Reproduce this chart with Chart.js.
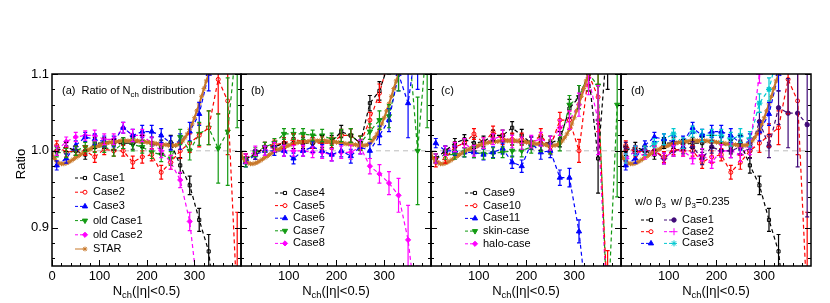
<!DOCTYPE html>
<html>
<head>
<meta charset="utf-8">
<title>Ratio of Nch distribution</title>
<script src="https://cdn.jsdelivr.net/npm/chart.js@4.4.1/dist/chart.umd.min.js"></script>
<style>
  body { margin: 0; background: #fff; }
  #wrap { position: relative; width: 830px; height: 303px; }
  #wrap canvas { position: absolute; left: 0; top: 0; }
</style>
</head>
<body>
<div id="wrap">
  <canvas id="panelA" width="830" height="303"></canvas>
  <canvas id="panelB" width="830" height="303"></canvas>
  <canvas id="panelC" width="830" height="303"></canvas>
  <canvas id="panelD" width="830" height="303"></canvas>
</div>
<script>
// N_ch bin centres of the model curves
const nch = [10, 30, 50, 70, 90, 110, 130, 150, 170, 190, 210, 230, 250, 270, 290, 310, 330, 350, 370, 390];
// typical statistical error of the model ratios
const errBar = [0.006, 0.006, 0.006, 0.006, 0.007, 0.007, 0.007, 0.007, 0.008, 0.008, 0.008, 0.009, 0.009, 0.010, 0.012, 0.015, 0.022, 0.045, 0.07, 0.12];
const xTickValues = [0, 100, 200, 300];
const yTickValues = [0.9, 1.0, 1.1];

// STAR reference curve
const starNch = [0, 5, 10, 15, 20, 25, 30, 35, 40, 45, 50, 55, 60, 65, 70, 75, 80, 85, 90, 95,
  100, 105, 110, 115, 120, 125, 130, 135, 140, 145, 150, 155, 160, 165, 170, 175, 180, 185, 190, 195,
  200, 205, 210, 215, 220, 225, 230, 235, 240, 245, 250, 255, 260, 265, 270, 275, 280, 285, 290, 295,
  300, 305, 310, 315, 320, 325, 330, 335];
const starRatio = [0.996, 0.990, 0.986, 0.984, 0.983, 0.983, 0.984, 0.985, 0.987, 0.989,
  0.991, 0.993, 0.995, 0.997, 0.999, 1.001, 1.002, 1.004, 1.005, 1.006,
  1.007, 1.008, 1.009, 1.010, 1.011, 1.011, 1.012, 1.012, 1.012, 1.013,
  1.013, 1.013, 1.013, 1.013, 1.013, 1.013, 1.013, 1.012, 1.012, 1.012,
  1.011, 1.011, 1.010, 1.010, 1.009, 1.009, 1.008, 1.008, 1.008, 1.007,
  1.007, 1.007, 1.007, 1.008, 1.010, 1.013, 1.017, 1.022, 1.028, 1.035,
  1.043, 1.052, 1.061, 1.071, 1.081, 1.091, 1.100, 1.110];

// (a)
const case1 = [1.000, 1.005, 1.000, 0.995, 1.010, 1.010, 1.008, 1.010, 1.010, 1.012, 1.010, 1.005, 1.011, 0.981, 0.955, 0.910, 0.869, 0.760, null, null];
const case2 = [1.007, 0.998, 1.000, 1.000, 0.992, 1.002, 1.000, 1.000, 0.985, 0.992, 0.995, 0.972, 0.985, 1.000, 1.010, 1.020, 1.030, 1.093, 1.065, 0.800];
const case3 = [0.981, 0.990, 1.007, 1.018, 1.015, 1.012, 1.012, 1.030, 1.020, 1.025, 1.025, 1.020, 1.010, 1.012, 1.025, 1.048, 1.100, 1.160, null, null];
const oldCase1 = [0.998, 0.997, 1.000, 1.005, 1.005, 1.005, 1.000, 1.010, 1.008, 1.005, 0.998, 0.995, 0.990, 1.018, 1.000, 1.022, 1.030, 1.003, 1.025, 1.150];
const oldCase2 = [1.000, 1.012, 1.018, 1.020, 1.020, 1.015, 1.015, 1.030, 1.020, 1.020, 1.010, 1.000, 0.985, 0.962, 0.908, 0.800, null, null, null, null];
// (b)
const case4 = [0.990, 0.995, 1.005, 1.005, 1.010, 1.010, 1.010, 1.010, 1.012, 1.012, 1.025, 1.020, 1.010, 1.062, 1.078, 1.115, null, null, null, null];
const case5 = [0.990, 0.995, 1.005, 1.008, 1.010, 1.015, 1.012, 1.010, 1.010, 1.010, 1.020, 1.020, 1.010, 1.040, 1.075, 1.120, null, null, null, null];
const case6 = [0.985, 0.995, 1.000, 1.000, 1.000, 0.990, 1.000, 1.005, 1.000, 0.995, 1.000, 0.993, 1.005, 1.000, 1.020, 1.040, 1.100, 1.062, 1.150, null];
const case7 = [0.985, 0.998, 1.005, 1.010, 1.022, 1.022, 1.022, 1.020, 1.020, 1.015, 1.020, 1.020, 1.010, 1.025, 1.040, 1.045, 1.100, 1.150, 1.000, 1.150];
const case8 = [0.990, 1.000, 1.000, 1.005, 1.000, 1.000, 1.000, 0.998, 0.998, 0.995, 0.998, 0.998, 1.005, 0.980, 0.970, 0.958, 0.942, 0.884, 0.780, null];
// (c)
const case9 = [0.990, 1.000, 1.010, 1.015, 1.010, 1.012, 1.020, 1.020, 1.030, 1.020, 1.010, 1.010, 1.010, 1.015, 1.055, 1.070, 1.100, 0.990, 1.150, null];
const case10 = [0.985, 0.990, 1.005, 1.010, 1.022, 1.010, 1.025, 1.015, 1.015, 1.015, 1.010, 1.020, 1.005, 1.040, 1.040, 1.000, 1.100, 1.070, 0.800, null];
const case11 = [1.010, 1.000, 1.000, 0.998, 0.998, 0.995, 0.998, 1.003, 0.985, 0.980, 1.010, 0.998, 1.000, 0.965, 0.965, 0.895, 0.780, null, null, null];
const skinCase = [0.990, 0.995, 0.995, 0.998, 0.998, 0.996, 0.997, 0.998, 1.000, 1.000, 1.005, 1.008, 1.005, 1.010, 1.060, 1.070, 1.100, 1.085, 0.780, 1.060];
const haloCase = [0.990, 1.000, 1.005, 1.010, 1.000, 1.010, 1.015, 1.020, 1.012, 1.010, 1.012, 1.015, 1.010, 1.030, 1.040, 1.060, 1.095, 1.040, 0.780, null];
// (d) with beta3 = 0.235
const b3Case1 = [1.005, 1.000, 1.000, 1.000, 0.990, 1.000, 1.003, 1.005, 0.990, 1.005, 1.000, 1.000, 1.005, 1.000, 1.038, 1.006, 1.056, 1.049, 1.049, 1.034];
const b3Case2 = [0.990, 1.000, 0.995, 1.000, 0.990, 1.000, 1.000, 0.990, 0.995, 0.985, 1.000, 1.000, 0.995, 1.005, 1.100, 1.160, null, null, null, null];
const b3Case3 = [0.990, 1.000, 1.000, 1.010, 1.015, 1.022, 1.010, 1.025, 1.020, 1.020, 1.020, 1.015, 1.020, 1.015, 1.062, 1.080, 1.130, null, null, null];

const FONT = '"Liberation Sans", Arial, Helvetica, sans-serif';
Chart.defaults.font.family = FONT;
Chart.defaults.color = '#000';

const RED = '#ff0000', BLUE = '#0000ff', GREEN = '#129a12', MAG = '#ff00ff', ORANGE = '#c8782a', CYAN = '#00c8d0', INDIGO = '#400a78';

function model(label, values, color, style) {
  const pts = [];
  values.forEach((v, i) => { if (v !== null) pts.push({ x: nch[i], y: v, e: errBar[i] }); });
  return Object.assign({
    label: label,
    data: pts,
    borderColor: color,
    backgroundColor: color,
    pointBackgroundColor: color,
    pointBorderColor: color,
    borderWidth: 1.2,
    borderDash: [4, 3],
    pointStyle: 'circle',
    pointRadius: 2.2,
    pointBorderWidth: 1,
    clip: 0,
    errorBars: true
  }, style || {});
}
const openSquare = { pointStyle: 'rect', pointRadius: 2.2, pointBackgroundColor: '#fff' };
const openCircle = { pointStyle: 'circle', pointRadius: 2, pointBackgroundColor: '#fff' };
const upTri = { pointStyle: 'triangle', pointRadius: 3 };
const downTri = { pointStyle: 'triangle', pointRadius: 3, pointRotation: 180 };
const diamond = { pointStyle: 'rectRot', pointRadius: 2.6 };

function starData() {
  return {
    label: 'STAR',
    data: starNch.map((x, i) => ({ x: x, y: starRatio[i] })),
    borderColor: ORANGE, backgroundColor: ORANGE,
    pointBackgroundColor: ORANGE, pointBorderColor: ORANGE,
    borderWidth: 2, pointStyle: 'star', pointRadius: 2.4, pointBorderWidth: 1,
    clip: 0, order: -1
  };
}

// per panel decorations: texts, legends, panel label
const deco = {
  panelA: {
    tag: [['(a)  Ratio of N'], ['ch', 1], [' distribution']], tagX: 62,
    legends: [{ x: 75, y: 178, step: 14.2, text: true, sets: [0, 1, 2, 3, 4, 5] }],
    yTitle: true, showZero: true
  },
  panelB: {
    tag: [['(b)']], tagX: 251,
    legends: [{ x: 275, y: 193, step: 12.6, text: true, sets: [0, 1, 2, 3, 4] }]
  },
  panelC: {
    tag: [['(c)']], tagX: 441,
    legends: [{ x: 465, y: 193, step: 12.7, text: true, sets: [0, 1, 2, 3, 4] }]
  },
  panelD: {
    tag: [['(d)']], tagX: 631,
    header: [{ x: 635, parts: [['w/o β'], ['3', 1]] }, { x: 671, parts: [['w/ β'], ['3', 1], ['=0.235']] }], headerY: 202,
    legends: [
      { x: 641, y: 220, step: 11.7, text: false, sets: [0, 1, 2] },
      { x: 664, y: 220, step: 11.7, text: true, sets: [3, 4, 5] }
    ]
  }
};

function drawRich(ctx, parts, x, y, size, align) {
  let w = 0;
  parts.forEach(p => { ctx.font = (p[1] ? size * 0.72 : size) + 'px ' + FONT; w += ctx.measureText(p[0]).width; });
  let cx = align === 'center' ? x - w / 2 : x;
  ctx.textAlign = 'left';
  parts.forEach(p => {
    ctx.font = (p[1] ? size * 0.72 : size) + 'px ' + FONT;
    ctx.fillText(p[0], cx, p[1] ? y + size * 0.32 : y);
    cx += ctx.measureText(p[0]).width;
  });
}

const panelDeco = {
  id: 'panelDeco',
  beforeDatasetsDraw(chart) {
    const { ctx, chartArea: a, scales: { y } } = chart;
    const py = y.getPixelForValue(1.0);
    ctx.save();
    ctx.strokeStyle = '#bdbdbd';
    ctx.lineWidth = 1;
    ctx.setLineDash([5, 4]);
    ctx.beginPath(); ctx.moveTo(a.left, py); ctx.lineTo(a.right, py); ctx.stroke();
    ctx.restore();
  },
  afterDatasetsDraw(chart) {
    // vertical error bars
    const { ctx, chartArea: a, scales: { x, y } } = chart;
    ctx.save();
    ctx.beginPath(); ctx.rect(a.left, a.top, a.width, a.height); ctx.clip();
    chart.data.datasets.forEach(ds => {
      if (!ds.errorBars) return;
      ctx.strokeStyle = ds.borderColor;
      ctx.lineWidth = 1.2;
      ds.data.forEach(p => {
        const px = x.getPixelForValue(p.x);
        const lo = y.getPixelForValue(p.y - p.e), hi = y.getPixelForValue(p.y + p.e);
        ctx.beginPath();
        ctx.moveTo(px, lo); ctx.lineTo(px, hi);
        ctx.moveTo(px - 2, lo); ctx.lineTo(px + 2, lo);
        ctx.moveTo(px - 2, hi); ctx.lineTo(px + 2, hi);
        ctx.stroke();
      });
    });
    ctx.restore();
  },
  afterDraw(chart) {
    const d = deco[chart.canvas.id];
    const { ctx, chartArea: a, scales: { x, y } } = chart;
    ctx.save();
    // frame and inward ticks
    ctx.strokeStyle = '#000';
    ctx.lineWidth = 1.5;
    ctx.strokeRect(a.left, a.top, a.width, a.height);
    ctx.lineWidth = 1;
    ctx.beginPath();
    for (let v = 0; v <= x.max; v += 20) {
      const px = Math.round(x.getPixelForValue(v)) + 0.5;
      const len = v % 100 === 0 ? 6 : 3;
      ctx.moveTo(px, a.bottom); ctx.lineTo(px, a.bottom - len);
    }
    for (let k = 43; k <= 55; k++) {
      const v = k / 50;
      const py = Math.round(y.getPixelForValue(v)) + 0.5;
      const len = k % 5 === 0 ? 6 : 3;
      ctx.moveTo(a.left, py); ctx.lineTo(a.left + len, py);
      ctx.moveTo(a.right, py); ctx.lineTo(a.right - len, py);
    }
    ctx.stroke();

    ctx.fillStyle = '#000';
    ctx.textBaseline = 'middle';
    // x title
    drawRich(ctx, [['N'], ['ch', 1], ['(|η|<0.5)']], (a.left + a.right) / 2, 291, 13, 'center');
    // y title
    if (d.yTitle) {
      ctx.save();
      ctx.translate(21, 164);
      ctx.rotate(-Math.PI / 2);
      ctx.font = '13px ' + FONT;
      ctx.textAlign = 'center';
      ctx.fillText('Ratio', 0, 0);
      ctx.restore();
    }
    // panel label
    drawRich(ctx, d.tag, d.tagX, 91, 11);
    if (d.header) d.header.forEach(h => drawRich(ctx, h.parts, h.x, d.headerY, 11));
    // legends
    d.legends.forEach(lg => {
      lg.sets.forEach((idx, row) => {
        const ds = chart.data.datasets[idx];
        const ly = lg.y + row * lg.step;
        ctx.save();
        ctx.strokeStyle = ds.borderColor;
        ctx.lineWidth = 1;
        if (ds.borderDash) ctx.setLineDash([3, 2]);
        ctx.beginPath(); ctx.moveTo(lg.x, ly); ctx.lineTo(lg.x + 10, ly); ctx.stroke();
        ctx.setLineDash([]);
        ctx.fillStyle = ds.pointBackgroundColor;
        Chart.helpers.drawPoint(ctx, {
          pointStyle: ds.pointStyle, rotation: ds.pointRotation || 0,
          radius: ds.pointRadius, borderWidth: ds.pointBorderWidth
        }, lg.x + 10, ly);
        ctx.restore();
        if (lg.text) drawRich(ctx, [[ds.label]], lg.x + 18, ly, 11);
      });
    });
    ctx.restore();
  }
};

function makePanel(id, left, right, datasets) {
  const d = deco[id];
  const hasY = !!d.yTitle;
  return new Chart(document.getElementById(id), {
    type: 'line',
    data: { datasets: datasets },
    options: {
      responsive: false,
      animation: false,
      events: [],
      layout: { padding: { left: hasY ? 0 : left, right: 830 - right, top: 74, bottom: 0 } },
      plugins: { legend: { display: false }, tooltip: { enabled: false } },
      scales: {
        x: {
          type: 'linear', min: 0, max: 398,
          grid: { display: false, drawTicks: false }, border: { display: false },
          afterBuildTicks: s => { s.ticks = xTickValues.map(v => ({ value: v })); },
          ticks: {
            padding: 3, autoSkip: false, maxRotation: 0,
            font: { size: 13 },
            callback: v => (v > 0 || d.showZero) ? String(v) : ''
          },
          afterFit: s => { s.height = 37; }
        },
        y: {
          display: hasY, min: 0.85, max: 1.1,
          grid: { display: false, drawTicks: false }, border: { display: false },
          afterBuildTicks: s => { s.ticks = yTickValues.map(v => ({ value: v })); },
          ticks: { padding: 3, font: { size: 13 }, callback: v => v.toFixed(1) },
          afterFit: s => { s.width = hasY ? left : 0; }
        }
      }
    },
    plugins: [panelDeco]
  });
}

makePanel('panelA', 52, 241, [
  model('Case1', case1, '#000', openSquare),
  model('Case2', case2, RED, openCircle),
  model('Case3', case3, BLUE, upTri),
  model('old Case1', oldCase1, GREEN, downTri),
  model('old Case2', oldCase2, MAG, diamond),
  starData()
]);
makePanel('panelB', 241, 431, [
  model('Case4', case4, '#000', openSquare),
  model('Case5', case5, RED, openCircle),
  model('Case6', case6, BLUE, upTri),
  model('Case7', case7, GREEN, downTri),
  model('Case8', case8, MAG, diamond),
  starData()
]);
makePanel('panelC', 431, 621, [
  model('Case9', case9, '#000', openSquare),
  model('Case10', case10, RED, openCircle),
  model('Case11', case11, BLUE, upTri),
  model('skin-case', skinCase, GREEN, downTri),
  model('halo-case', haloCase, MAG, diamond),
  starData()
]);
makePanel('panelD', 621, 811, [
  model('Case1', case1, '#000', openSquare),
  model('Case2', case2, RED, openCircle),
  model('Case3', case3, BLUE, upTri),
  model('Case1', b3Case1, INDIGO, { pointStyle: 'circle', pointRadius: 2.2 }),
  model('Case2', b3Case2, MAG, { pointStyle: 'cross', pointRadius: 3.5, pointBorderWidth: 1.5 }),
  model('Case3', b3Case3, CYAN, { pointStyle: 'star', pointRadius: 3, pointBorderWidth: 1.3 }),
  starData()
]);
</script>
</body>
</html>
